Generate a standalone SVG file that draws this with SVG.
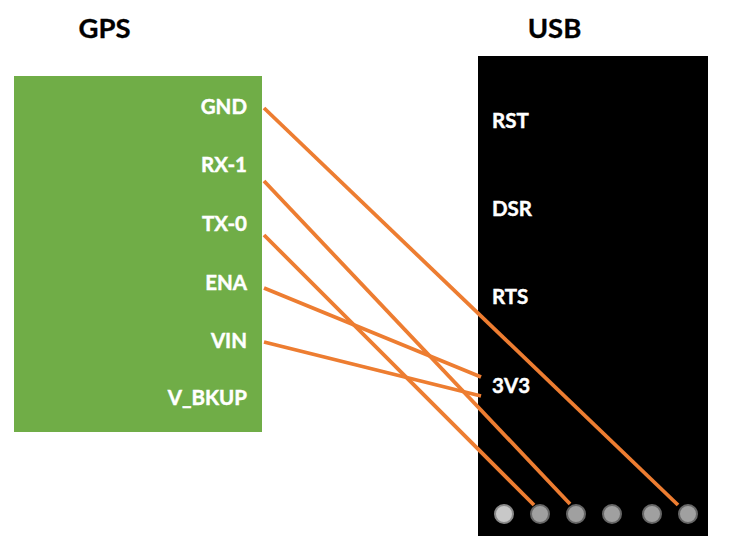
<svg xmlns="http://www.w3.org/2000/svg" width="730" height="556" viewBox="0 0 730 556">
<style>
text{font-family:Lato,"Liberation Sans",sans-serif;font-weight:700}
.t{font-size:27.5px;fill:#000;stroke:#000;stroke-width:.3;text-anchor:middle}
.l{font-size:20.5px;fill:#fff;stroke:#fff;stroke-width:.45}
.r{text-anchor:end}
.c{stroke:#ed7d31;stroke-width:3.8;fill:none;stroke-linecap:butt}
.p{fill:#a0a0a0;stroke:#666;stroke-width:2}
</style>
<rect width="730" height="556" fill="#fff"/>
<g id="gps">
<rect x="14" y="76" width="248" height="356" fill="#70ad47"/>
<text class="t" x="104.500" y="38">GPS</text>
<text class="l r" x="247" y="114">GND</text>
<text class="l r" x="247" y="172">RX-1</text>
<text class="l r" x="247" y="231">TX-0</text>
<text class="l r" x="247" y="290">ENA</text>
<text class="l r" x="247" y="348">VIN</text>
<text class="l r" x="247" y="405">V_BKUP</text>
</g>
<g id="usb">
<rect x="478" y="56" width="230" height="480" fill="#000"/>
<text class="t" x="554.500" y="38">USB</text>
<text class="l" x="492" y="128">RST</text>
<text class="l" x="492" y="216">DSR</text>
<text class="l" x="492" y="304">RTS</text>
<text class="l" x="492" y="393">3V3</text>
<circle class="p" cx="504" cy="514" r="9" style="fill:#c8c8c8;stroke:#8a8a8a"/>
<circle class="p" cx="540" cy="514" r="9"/>
<circle class="p" cx="576" cy="514" r="9"/>
<circle class="p" cx="612" cy="514" r="9"/>
<circle class="p" cx="652" cy="514" r="9"/>
<circle class="p" cx="688" cy="514" r="9"/>
</g>
<g id="connectors">
<line class="c" x1="264" y1="108" x2="678" y2="505"/>
<line class="c" x1="264" y1="181" x2="570" y2="504"/>
<line class="c" x1="264" y1="235" x2="534" y2="505"/>
<line class="c" x1="264" y1="288" x2="481" y2="377"/>
<line class="c" x1="264" y1="342" x2="481" y2="396"/>
</g>
</svg>
